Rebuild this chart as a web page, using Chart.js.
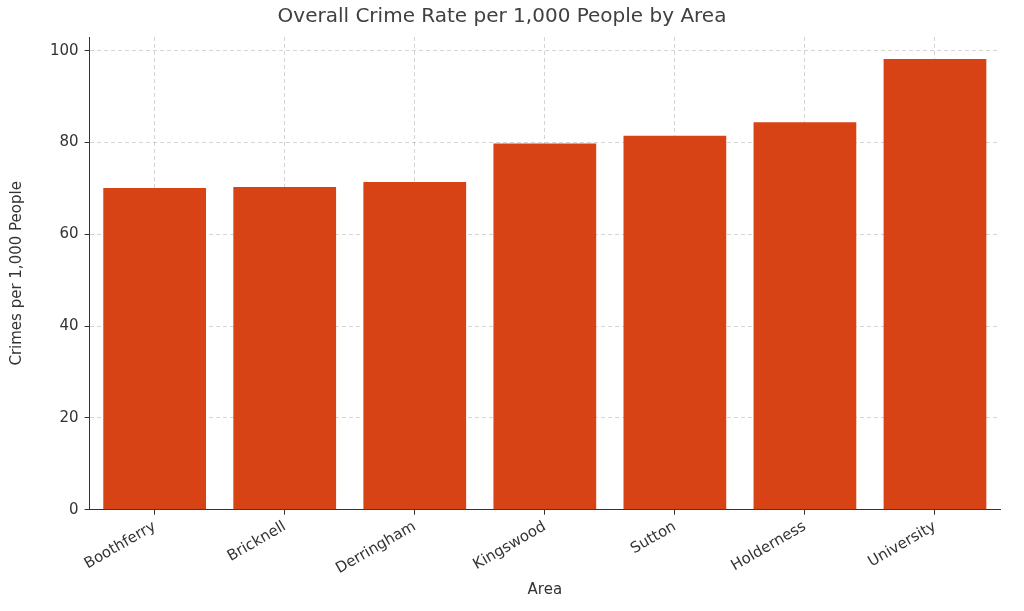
<!DOCTYPE html>
<html><head><script src="https://cdn.jsdelivr.net/npm/chart.js@4"></script>
<style>body{margin:0;background:#fff}#w{width:1024px;height:611px}</style></head>
<body><div id="w"><canvas id="c"></canvas></div>
<script>
const categories=["Boothferry","Bricknell","Derringham","Kingswood","Sutton","Holderness","University"];
const values=[70.1,70.3,71.4,79.8,81.5,84.4,98.2];
const yTicks=[0,20,40,60,80,100];
const font="'DejaVu Sans'";
new Chart(document.getElementById('c'),{type:'bar',
data:{labels:categories,datasets:[{data:values,backgroundColor:'#d84315',borderWidth:0,barPercentage:0.79,categoryPercentage:1}]},
options:{responsive:true,maintainAspectRatio:false,animation:false,
layout:{padding:{left:4,right:24,top:5,bottom:8}},
plugins:{legend:{display:false},title:{display:true,text:'Overall Crime Rate per 1,000 People by Area',color:'#404040',font:{family:font,size:20,weight:'normal'},padding:{top:0,bottom:8}}},
scales:{
x:{grid:{offset:false,color:'rgba(0,0,0,0.17)',drawTicks:true,tickColor:'#333',tickLength:5},border:{color:'#333',dash:[4,3]},
ticks:{color:'#333',font:{family:font,size:15},maxRotation:30,minRotation:30},
title:{display:true,text:'Area',color:'#333',font:{family:font,size:15},padding:{top:0}}},
y:{min:0,max:103,afterBuildTicks:a=>{a.ticks=yTicks.map(v=>({value:v}))},
grid:{color:'rgba(0,0,0,0.17)',tickColor:'#333',tickLength:5},border:{color:'#333',dash:[4,3]},
ticks:{color:'#333',font:{family:font,size:15},padding:6},
title:{display:true,text:'Crimes per 1,000 People',color:'#333',font:{family:font,size:15},padding:{bottom:18}}}}}
});
</script></body></html>
